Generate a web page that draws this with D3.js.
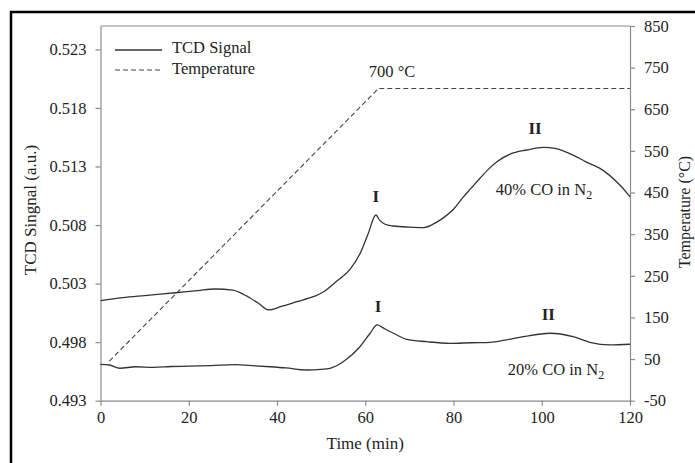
<!DOCTYPE html>
<html>
<head>
<meta charset="utf-8">
<script src="https://cdn.jsdelivr.net/npm/d3@7"></script>
<style>
  body { margin: 0; background: #fff; }
  svg { display: block; }
  svg text { font-family: "Liberation Serif", "Times New Roman", serif; }
</style>
</head>
<body>
<div id="chart"></div>
<script>
// TCD signal, 40% CO in N2 (time in min, signal in a.u.)
const timeHigh = [0, 5, 10, 17, 22, 26, 30, 32.7, 35.8, 38, 41, 44.5, 48.2, 50.5, 53.5, 56.5, 58.8, 60.7, 62.4,
  63.3, 64.5, 66.4, 70, 73.2, 76.2, 78, 80, 82, 84, 86, 88, 90, 92.8, 96.6, 100.4, 103, 107.1, 110,
  113.2, 117.7, 120];
const signalHigh = [0.50155, 0.50180, 0.50198, 0.50222, 0.50240, 0.50254, 0.50245, 0.50203, 0.50132, 0.50075,
  0.50105, 0.50146, 0.50188, 0.50228, 0.50320, 0.50420, 0.50555, 0.50730, 0.50886, 0.50840, 0.50807, 0.50792,
  0.50782, 0.50778, 0.50825, 0.50870, 0.50935, 0.51030, 0.51115, 0.51200, 0.51280, 0.51345, 0.51405, 0.51441,
  0.51464, 0.51455, 0.51398, 0.51340, 0.51284, 0.51142, 0.51042];

// TCD signal, 20% CO in N2
const timeLow = [0, 2, 4.4, 8, 12, 16, 20, 25, 30.5, 35, 38.4, 42, 46.7, 50, 52, 55, 58.8, 61.1, 62.7, 64.5,
  66.4, 69.4, 73.9, 79.2, 84, 88.3, 92, 95.8, 101.9, 107.1, 110.9, 115.5, 120];
const signalLow = [0.49611, 0.49605, 0.49577, 0.49590, 0.49585, 0.49592, 0.49595, 0.49600, 0.49608, 0.49598,
  0.49590, 0.49580, 0.49562, 0.49568, 0.49577, 0.49633, 0.49761, 0.49876, 0.49947, 0.49912, 0.49876, 0.49824,
  0.49804, 0.49790, 0.49795, 0.49798, 0.49820, 0.49847, 0.49876, 0.49847, 0.49798, 0.49776, 0.49782];

// Temperature program (min, °C)
const timeTemp = [2, 63, 120];
const tempValues = [45, 700, 700];

const xTicks = [0, 20, 40, 60, 80, 100, 120];
const leftTicks = [0.493, 0.498, 0.503, 0.508, 0.513, 0.518, 0.523];
const rightTicks = [-50, 50, 150, 250, 350, 450, 550, 650, 750, 850];

const width = 695, height = 463;
const plot = { left: 100.5, right: 630, top: 26, bottom: 400.7 };
const axisColor = "#8a8a8a";
const lineColor = "#333";
const serif = "'Liberation Serif', 'Times New Roman', serif";

const svg = d3.select("#chart").append("svg")
  .attr("width", width)
  .attr("height", height)
  .attr("font-family", serif);

// outer frame of the figure
svg.append("rect")
  .attr("x", 11).attr("y", 12)
  .attr("width", 700).attr("height", 470)
  .attr("fill", "none")
  .attr("stroke", "#000")
  .attr("stroke-width", 2.5);

const x = d3.scaleLinear().domain([0, 120]).range([plot.left, plot.right]);
const yL = d3.scaleLinear().domain([0.493, 0.525]).range([plot.bottom, plot.top]);
const yR = d3.scaleLinear().domain([-50, 850]).range([plot.bottom, plot.top]);

// top border of the plot area
svg.append("line")
  .attr("x1", plot.left).attr("x2", plot.right)
  .attr("y1", plot.top).attr("y2", plot.top)
  .attr("stroke", axisColor).attr("stroke-width", 1.2);

function styleAxis(g) {
  g.attr("font-family", serif);
  g.selectAll("path, line").attr("stroke", axisColor).attr("stroke-width", 1.2);
  g.selectAll("text")
    .attr("fill", "#222")
    .attr("font-size", "16.5px");
}

svg.append("g")
  .attr("transform", `translate(0,${plot.bottom})`)
  .call(d3.axisBottom(x).tickValues(xTicks).tickSize(5).tickSizeOuter(0).tickPadding(6))
  .call(styleAxis);

svg.append("g")
  .attr("transform", `translate(${plot.left},0)`)
  .call(d3.axisLeft(yL).tickValues(leftTicks).tickFormat(d3.format(".3f")).tickSize(5).tickSizeOuter(0).tickPadding(9))
  .call(styleAxis);

svg.append("g")
  .attr("transform", `translate(${plot.right},0)`)
  .call(d3.axisRight(yR).tickValues(rightTicks).tickFormat(d => String(d)).tickSize(5).tickSizeOuter(0).tickPadding(9))
  .call(styleAxis);

// axis titles
svg.append("text")
  .attr("x", (plot.left + plot.right) / 2).attr("y", 449)
  .attr("text-anchor", "middle")
  .attr("font-size", "17px")
  .attr("fill", "#222")
  .text("Time (min)");

svg.append("text")
  .attr("transform", "translate(36,210) rotate(-90)")
  .attr("text-anchor", "middle")
  .attr("font-size", "17px")
  .attr("fill", "#222")
  .text("TCD Singnal (a.u.)");

// right title sits at the very edge, as in the original figure
svg.append("text")
  .attr("transform", "translate(690,212) rotate(-90)")
  .attr("text-anchor", "middle")
  .attr("font-size", "16px")
  .attr("fill", "#222")
  .text("Temperature (°C)");

// lines
const lineL = d3.line().x(d => x(d[0])).y(d => yL(d[1])).curve(d3.curveMonotoneX);
const lineR = d3.line().x(d => x(d[0])).y(d => yR(d[1]));

svg.append("path")
  .datum(d3.zip(timeTemp, tempValues))
  .attr("d", lineR)
  .attr("fill", "none")
  .attr("stroke", "#444")
  .attr("stroke-width", 1.1)
  .attr("stroke-dasharray", "5,3");

[[timeHigh, signalHigh], [timeLow, signalLow]].forEach(([t, s]) => {
  svg.append("path")
    .datum(d3.zip(t, s))
    .attr("d", lineL)
    .attr("fill", "none")
    .attr("stroke", lineColor)
    .attr("stroke-width", 1.3);
});

// legend
const legend = svg.append("g").attr("font-size", "16.5px").attr("fill", "#222");
legend.append("line")
  .attr("x1", 115).attr("x2", 162).attr("y1", 50).attr("y2", 50)
  .attr("stroke", lineColor).attr("stroke-width", 1.3);
legend.append("text").attr("x", 172).attr("y", 53).text("TCD Signal");
legend.append("line")
  .attr("x1", 115).attr("x2", 162).attr("y1", 70).attr("y2", 70)
  .attr("stroke", "#444").attr("stroke-width", 1.1)
  .attr("stroke-dasharray", "5,3");
legend.append("text").attr("x", 172).attr("y", 74).text("Temperature");

// annotations
const notes = svg.append("g").attr("fill", "#222");
notes.append("text")
  .attr("x", 392).attr("y", 77)
  .attr("text-anchor", "middle").attr("font-size", "16.5px")
  .text("700 °C");

const peaks = [
  { t: 62.4, v: 0.50886, label: "I" },
  { t: 62.9, v: 0.49947, label: "I" },
  { t: 98.5, v: 0.51464, label: "II" },
  { t: 101.5, v: 0.49876, label: "II" }
];
notes.selectAll(".peak")
  .data(peaks)
  .enter()
  .append("text")
  .attr("class", "peak")
  .attr("x", d => x(d.t))
  .attr("y", d => yL(d.v) - 13)
  .attr("text-anchor", "middle")
  .attr("font-size", "17px")
  .attr("font-weight", "bold")
  .text(d => d.label);

function gasLabel(cx, cy, pct) {
  const t = notes.append("text")
    .attr("x", cx).attr("y", cy)
    .attr("text-anchor", "middle")
    .attr("font-size", "16.5px");
  t.append("tspan").text(`${pct}% CO in N`);
  t.append("tspan").attr("dy", 4).attr("font-size", "12px").text("2");
}
gasLabel(544, 195, 40);
gasLabel(556, 375, 20);
</script>
</body>
</html>
